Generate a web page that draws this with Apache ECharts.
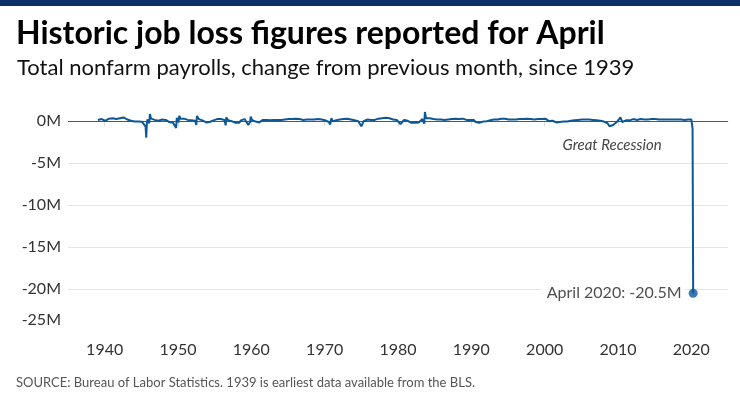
<!DOCTYPE html>
<html><head><meta charset="utf-8">
<script src="https://cdn.jsdelivr.net/npm/echarts@6/dist/echarts.min.js"></script>
<style>html,body{margin:0;padding:0;background:#fff}#c{width:740px;height:416px}</style>
</head><body><div id="c"></div>
<script>
const titleText = 'Historic job loss figures reported for April';
const subtitleText = 'Total nonfarm payrolls, change from previous month, since 1939';
const sourceText = 'SOURCE: Bureau of Labor Statistics. 1939 is earliest data available from the BLS.';
const noteText = 'Great Recession';

// Quarterly sample (Feb, May, Aug, Nov) of monthly change, thousands, 1939-2019
const firstYear = 1939;
const quarterMonths = [2, 5, 8, 11];
const quarterlyChangeK = [
  150, 100, 250, 300,   // 1939
  50, 100, 300, 350,    // 1940
  350, 400, 250, 200,   // 1941
  350, 400, 450, 300,   // 1942
  200, 100, 50, 0,      // 1943
  -50, -100, -50, -80,  // 1944
  -60, -150, -650, 200, // 1945
  -250, 300, 250, 150,  // 1946
  150, 50, 100, 200,    // 1947
  100, 150, 50, -100,   // 1948
  -250, -200, -50, 400, // 1949
  -150, 300, 400, 300,  // 1950
  300, 150, 50, 100,    // 1951
  100, 50, 600, 250,    // 1952
  200, 100, -50, -150,  // 1953
  -200, -100, 0, 100,   // 1954
  200, 250, 250, 250,   // 1955
  200, 150, 450, 100,   // 1956
  100, 0, -50, -200,    // 1957
  -350, -200, 100, 200, // 1958
  250, 250, -450, -100, // 1959
  150, 50, -50, -150,   // 1960
  -150, 50, 150, 150,   // 1961
  150, 150, 100, 100,   // 1962
  150, 150, 150, 200,   // 1963
  150, 200, 200, 200,   // 1964
  250, 250, 250, 300,   // 1965
  300, 300, 250, 200,   // 1966
  150, 150, 200, 200,   // 1967
  200, 200, 200, 250,   // 1968
  250, 200, 200, 150,   // 1969
  100, -50, -100, 0,    // 1970
  0, 100, 100, 150,     // 1971
  200, 200, 250, 300,   // 1972
  300, 250, 200, 200,   // 1973
  100, 100, 0, -200,    // 1974
  -400, 0, 150, 200,    // 1975
  250, 150, 150, 150,   // 1976
  250, 300, 300, 350,   // 1977
  300, 400, 300, 350,   // 1978
  250, 200, 150, 150,   // 1979
  100, -350, -100, 150, // 1980
  150, 50, 0, -200,     // 1981
  -250, -200, -200, -150, // 1982
  50, 250, -300, 350,   // 1983
  350, 350, 300, 250,   // 1984
  250, 200, 200, 200,   // 1985
  150, 150, 200, 200,   // 1986
  250, 250, 250, 300,   // 1987
  250, 250, 250, 300,   // 1988
  250, 150, 100, 150,   // 1989
  250, 150, -100, -200, // 1990
  -200, -100, -50, -50, // 1991
  0, 50, 100, 100,      // 1992
  200, 200, 200, 250,   // 1993
  300, 300, 300, 350,   // 1994
  200, 100, 200, 150,   // 1995
  200, 250, 250, 250,   // 1996
  250, 250, 300, 300,   // 1997
  250, 250, 200, 250,   // 1998
  250, 250, 250, 250,   // 1999
  300, 250, 0, 150,     // 2000
  50, -50, -150, -250,  // 2001
  -100, 0, -50, 0,      // 2002
  -50, -50, 50, 100,    // 2003
  100, 250, 150, 150,   // 2004
  200, 200, 200, 200,   // 2005
  200, 150, 150, 150,   // 2006
  100, 100, 50, 100,    // 2007
  -50, -150, -250, -600,// 2008
  -800, -450, -250, -100, // 2009
  0, 450, -100, 100,    // 2010
  100, 150, 100, 150,   // 2011
  250, 100, 150, 150,   // 2012
  250, 200, 200, 250,   // 2013
  200, 250, 250, 300,   // 2014
  250, 250, 200, 250,   // 2015
  200, 150, 200, 150,   // 2016
  200, 150, 200, 200,   // 2017
  200, 200, 200, 200,   // 2018
  150, 100, 200, 200    // 2019
];

// Notable individual months (strikes, demobilization, 2020)
const eventMonths = ['1945-09', '1945-10', '1946-03', '1949-10', '1950-03', '1952-07', '1956-07',
  '1959-12', '1970-10', '1970-12', '1975-01', '1983-09', '2020-01', '2020-02', '2020-03', '2020-04'];
const eventChangeK = [-1960, -300, 850, -800, 650, -450, -500,
  550, -400, 350, -600, 1100, 200, 250, -870, -20500];

const yearTicks = [1940, 1950, 1960, 1970, 1980, 1990, 2000, 2010, 2020];
const valueTicksK = [-25000, -20000, -15000, -10000, -5000, 0];
const monthNames = ['January','February','March','April','May','June','July','August','September','October','November','December'];

const points = [];
quarterlyChangeK.forEach((v, i) => {
  const y = firstYear + Math.floor(i / 4);
  const m = quarterMonths[i % 4];
  points.push([y + (m - 1) / 12, v]);
});
eventMonths.forEach((s, i) => {
  const [y, m] = s.split('-').map(Number);
  points.push([y + (m - 1) / 12, eventChangeK[i]]);
});
points.sort((a, b) => a[0] - b[0]);

const lastIdx = eventMonths.length - 1;
const [lastY, lastM] = eventMonths[lastIdx].split('-').map(Number);
const lastPoint = [lastY + (lastM - 1) / 12, eventChangeK[lastIdx]];
const lastLabel = monthNames[lastM - 1] + ' ' + lastY + ': ' + (eventChangeK[lastIdx] / 1000).toFixed(1) + 'M';

const FONT = 'Lato';
const blue = '#0b5899';

const chart = echarts.init(document.getElementById('c'), null, {renderer: 'canvas'});
chart.setOption({
  animation: false,
  backgroundColor: '#fff',
  graphic: [
    {type: 'rect', left: 0, top: 0, shape: {width: 740, height: 6}, style: {fill: '#0a2f66'}},
    {type: 'text', left: 16, top: 18, style: {text: titleText, font: 'bold 32px ' + FONT, fill: '#000'}},
    {type: 'text', left: 17, top: 57, style: {text: subtitleText, font: '22px ' + FONT, fill: '#111'}},
    {type: 'text', left: 16, top: 376, style: {text: sourceText, font: '13px ' + FONT, fill: '#555'}}
  ],
  grid: {left: 68, right: 12, top: 96, bottom: 85},
  xAxis: {
    type: 'value', min: 1935, max: 2025,
    axisLine: {show: true, lineStyle: {color: '#dcdcdc', width: 1}},
    axisTick: {show: true, customValues: yearTicks, length: 5, lineStyle: {color: '#dcdcdc'}},
    axisLabel: {customValues: yearTicks, margin: 11, fontFamily: FONT, fontSize: 16, color: '#333',
      formatter: v => (v % 10 === 0 ? String(v) : '')},
    splitLine: {show: false}
  },
  yAxis: {
    type: 'value', min: -25000, max: 3000, interval: 5000,
    axisLine: {show: false}, axisTick: {show: false}, splitLine: {show: false},
    axisLabel: {
      margin: 7, fontFamily: FONT, fontSize: 16, color: '#333',
      formatter: v => {
        if (v % 5000 !== 0) return '';
        if (v === valueTicksK[0]) return '{low|' + (v / 1000) + 'M}';
        return (v / 1000) + 'M';
      },
      rich: {low: {fontFamily: FONT, fontSize: 16, color: '#333', padding: [0, 0, 22, 0]}}
    }
  },
  series: [
    {
      type: 'line', data: [], z: 1, silent: true,
      markLine: {
        z: 1, silent: true, symbol: 'none', label: {show: false}, animation: false,
        data: valueTicksK.filter(v => v !== valueTicksK[0]).map(v => ({
          yAxis: v,
          lineStyle: {color: v === 0 ? '#555' : '#e4e4e4', width: 1, type: 'solid'}
        }))
      }
    },
    {
      type: 'line', data: points, z: 3, symbol: 'none', silent: true,
      lineStyle: {color: blue, width: 2},
      markPoint: {
        silent: true, symbol: 'circle', symbolSize: 0,
        data: [{coord: [2009.2, -2850], value: noteText}],
        label: {show: true, position: 'inside', formatter: noteText,
          fontFamily: FONT, fontStyle: 'italic', fontSize: 15, color: '#444'}
      }
    },
    {
      type: 'scatter', data: [lastPoint], z: 10, symbol: 'circle', symbolSize: 9, silent: true,
      itemStyle: {color: blue},
      label: {show: true, position: 'left', distance: 4, formatter: lastLabel,
        backgroundColor: '#fff', padding: [3, 3, 3, 6],
        fontFamily: FONT, fontSize: 16, color: '#222'}
    }
  ]
});
</script></body></html>
